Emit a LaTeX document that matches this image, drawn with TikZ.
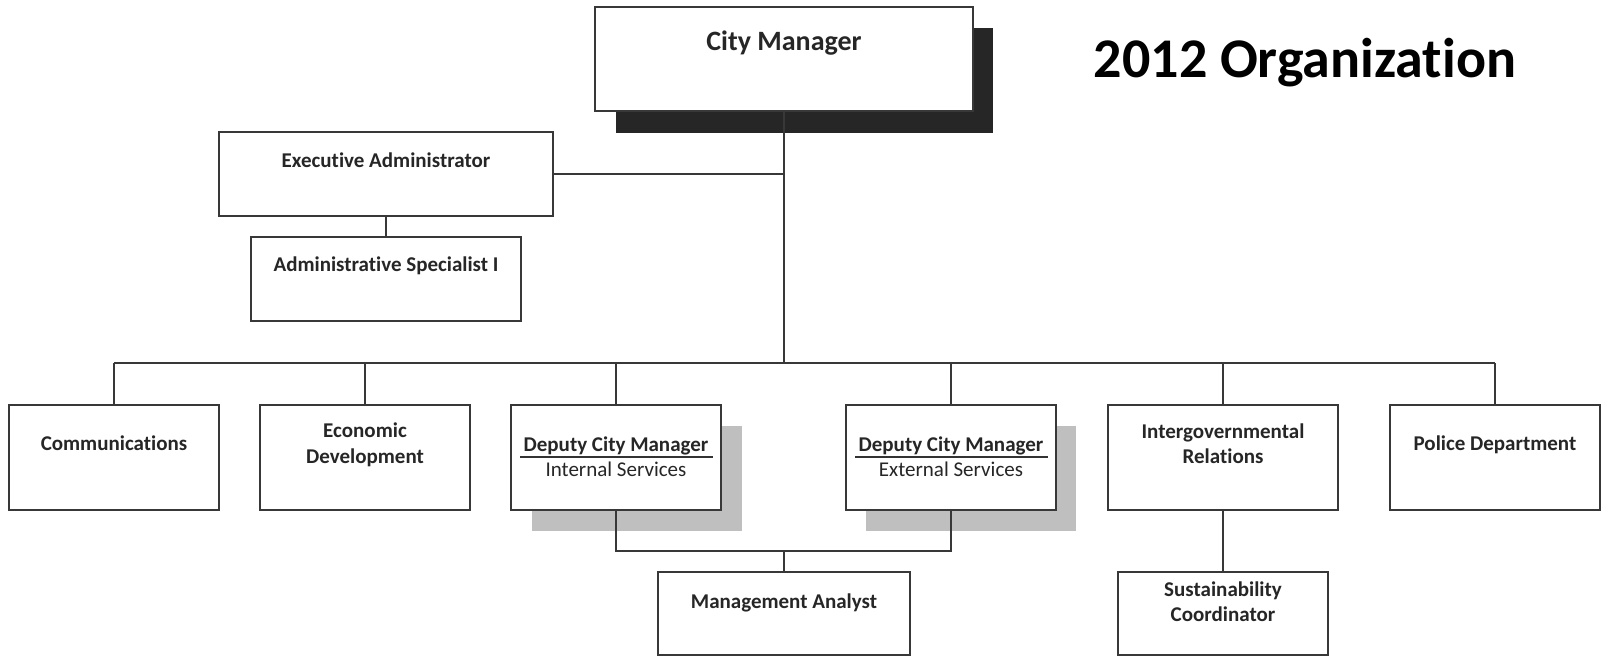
\documentclass[tikz,border=0pt]{standalone}
\usepackage{fontspec}
\setmainfont{Carlito}[Ligatures={NoCommon,NoRare,NoContextual}]
\usetikzlibrary{fit}
\newcommand\tiq{t\kern0pt i}
\begin{document}
\begin{tikzpicture}[x=1pt,y=-1pt,
  box/.style={draw=black!78, line width=1.6pt, fill=white, rectangle, inner sep=0pt},
  conn/.style={draw=black!78, line width=1.6pt},
  lbl/.style={font=\bfseries\fontsize{21}{25}\selectfont, anchor=base, inner sep=0pt, text=black!85},
  sub/.style={font=\fontsize{21}{25}\selectfont, anchor=base, inner sep=0pt, text=black!85},
  darkshadow/.style={fill=black!85, draw=none},
  lightshadow/.style={fill=black!25, draw=none}]
\useasboundingbox (0,0) rectangle (1604,663);
% shadows
\fill[darkshadow] (616,28) rectangle (993,133);
\fill[lightshadow] (532,426) rectangle (742,531);
\fill[lightshadow] (866,426) rectangle (1076,531);
% coordinates for buses
\coordinate (busL) at (114,363);
\coordinate (busR) at (1495,363);
\coordinate (mbus) at (784,551);
% boxes
\node[box, fit={(595,7) (973,111)}] (cm) {};
\node[box, fit={(219,132) (553,216)}] (exec) {};
\node[box, fit={(251,237) (521,321)}] (admin) {};
\node[box, fit={(9,405) (219,510)}] (comm) {};
\node[box, fit={(260,405) (470,510)}] (econ) {};
\node[box, fit={(511,405) (721,510)}] (dcmi) {};
\node[box, fit={(846,405) (1056,510)}] (dcme) {};
\node[box, fit={(1108,405) (1338,510)}] (igr) {};
\node[box, fit={(1390,405) (1600,510)}] (police) {};
\node[box, fit={(658,572) (910,655)}] (ma) {};
\node[box, fit={(1118,572) (1328,655)}] (sc) {};
% connectors
\draw[conn] (cm.south) -- (cm.south |- busL);
\draw[conn] (exec.east) -- (exec.east -| cm.south);
\draw[conn] (exec.south) -- (admin.north);
\draw[conn] (busL) -- (busR);
\foreach \n in {comm,econ,dcmi,dcme,igr,police}{
  \draw[conn] (\n.north) -- (\n.north |- busL);
}
\draw[conn] (dcmi.south) |- (mbus) -| (dcme.south);
\draw[conn] (mbus) -- (ma.north);
\draw[conn] (igr.south) -- (sc.north);
% texts
\node[lbl, font=\bfseries\fontsize{28}{32}\selectfont] (cmt) at (784,51) {City Manager};
\node[anchor=base, inner sep=0pt, font=\bfseries\fontsize{56}{60}\selectfont] (title) at (1305,78) {2012 Organiza\tiq on};
\node[lbl] (exect) at (386,168) {Execu\tiq ve Administrator};
\node[lbl] (admint) at (386,272) {Administra\tiq ve Specialist I};
\node[lbl] (commt) at (114,450) {Communica\tiq ons};
\node[lbl] (econt1) at (365,437) {Economic};
\node[lbl] (econt2) at (365,463) {Development};
\node[lbl] (dcmit) at (616,451) {Deputy City Manager};
\node[sub] (dcmis) at (616,476) {Internal Services};
\node[lbl] (dcmet) at (951,451) {Deputy City Manager};
\node[sub] (dcmes) at (951,476) {External Services};
\coordinate (ulA1) at (520,457); \coordinate (ulA2) at (713,457);
\coordinate (ulB1) at (855,457); \coordinate (ulB2) at (1048,457);
\draw[draw=black!80, line width=1.2pt] (ulA1) -- (ulA2);
\draw[draw=black!80, line width=1.2pt] (ulB1) -- (ulB2);
\node[lbl] (igrt1) at (1223,438) {Intergovernmental};
\node[lbl] (igrt2) at (1223,463) {Rela\tiq ons};
\node[lbl] (policet) at (1495,450) {Police Department};
\node[lbl] (mat) at (784,608) {Management Analyst};
\node[lbl] (sct1) at (1223,596) {Sustainability};
\node[lbl] (sct2) at (1223,621) {Coordinator};
\end{tikzpicture}
\end{document}
